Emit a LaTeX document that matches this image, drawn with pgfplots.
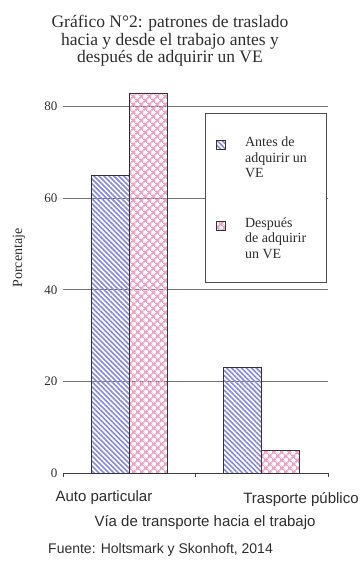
\documentclass[border=0pt]{standalone}
\usepackage{fontspec}
\setmainfont{Liberation Serif}
\newfontfamily\sansf{Liberation Sans}
\usepackage{pgfplots}
\pgfplotsset{compat=1.18}
\usetikzlibrary{patterns.meta}
\definecolor{stripeblue}{RGB}{135,135,228}
\definecolor{hatchpink}{RGB}{234,162,200}
\definecolor{txt}{RGB}{45,45,45}
\pgfplotsset{sq legend/.style={legend image code/.code={\draw[##1, line width=0.8pt] (0pt,8pt) rectangle (9pt,17pt);}}}
\newcommand{\lentry}[1]{\parbox[t]{68pt}{\setlength{\parindent}{0pt}\raggedright\fontsize{14}{15.5}\selectfont #1}}
\begin{document}
\begin{tikzpicture}
\useasboundingbox (0pt,0pt) rectangle (361pt,-567pt);
\begin{axis}[
  at={(63pt,-473pt)}, anchor=south west,
  scale only axis, width=265pt, height=389.2pt,
  xmin=-0.5, xmax=1.5, ymin=0, ymax=85,
  axis x line*=bottom, axis y line*=left,
  x axis line style={-, draw=black!75, line width=0.8pt},
  y axis line style={draw=none},
  xtick={-0.5,0.5,1.5}, xticklabels={},
  tick align=outside, major tick length=4pt,
  x tick style={draw=black!75, line width=0.8pt},
  y tick style={draw=none},
  ytick={0,20,40,60,80},
  ymajorgrids, grid style={draw=black!55, line width=0.8pt},
  yticklabel style={font=\fontsize{13}{13}\selectfont, text=txt, xshift=2pt},
  /pgf/number format/assume math mode=true,
  ybar=0pt, bar width=38pt,
  legend style={at={(rel axis cs:0.536,0.925)}, anchor=north west,
    draw=black!70, line width=0.6pt, fill=white,
    inner xsep=11pt, inner ysep=21.5pt,
    text=txt, row sep=36pt, column sep=17pt,
    nodes={text depth=}},
  legend cell align=left,
]
\addplot[draw=black!80, line width=0.8pt,
  pattern={Lines[angle=-45,distance=3.5pt,line width=1.6pt]}, pattern color=stripeblue, sq legend]
  coordinates {(0,65) (1,23)};
\addplot[draw=black!80, line width=0.8pt,
  pattern={Hatch[angle=45,distance=5.4pt,line width=1.9pt]}, pattern color=hatchpink, sq legend]
  coordinates {(0,83) (1,5)};
\legend{{\lentry{Antes de\\adquirir un\\VE}},{\lentry{Después\\de adquirir\\un VE}}}
\end{axis}
\node[align=center, text=txt, font=\fontsize{17.5}{17.5}\selectfont] at (170pt,-41pt)
  {Gráfico N°2: patrones de traslado\\hacia y desde el trabajo antes y\\después de adquirir un VE};
\node[rotate=90, text=txt, font=\fontsize{14}{14}\selectfont] at (19pt,-258pt) {Porcentaje};
\node[text=txt, font=\sansf\fontsize{15}{15}\selectfont] at (104pt,-498pt) {Auto particular};
\node[text=txt, font=\sansf\fontsize{15}{15}\selectfont] at (301pt,-500pt) {Trasporte público};
\node[text=txt, font=\sansf\fontsize{15}{15}\selectfont] at (205pt,-523pt) {Vía de transporte hacia el trabajo};
\node[anchor=west, text=txt, font=\sansf\fontsize{14}{14}\selectfont, inner sep=0pt] at (48pt,-550pt) {Fuente: Holtsmark y Skonhoft, 2014};
\end{tikzpicture}
\end{document}
